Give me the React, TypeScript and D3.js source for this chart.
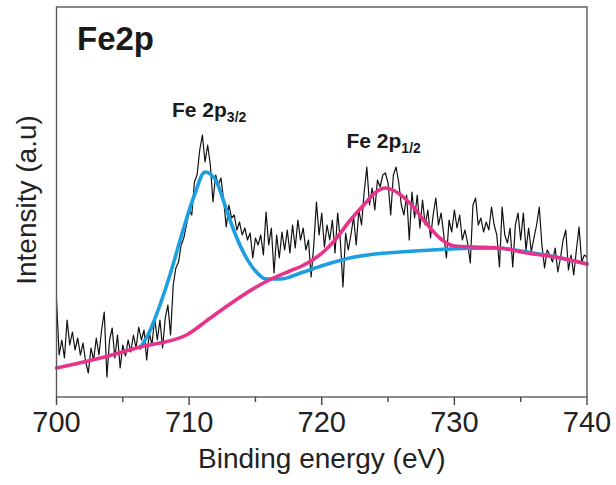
import React from 'react';
import * as d3 from 'd3';

const W = 616;
const H = 485;
const PLOT = { left: 56.5, right: 587, top: 7, bottom: 397 };

const xTicks = [700, 710, 720, 730, 740];
const xMinorTicks = [705, 715, 725, 735];

// Raw spectrum: binding energy from 700 eV in 0.2 eV steps
const E_START = 700;
const E_STEP = 0.2;
const rawIntensity = [
  97, 42, 57, 39, 77, 52, 65, 47, 59, 42,
  54, 35, 24, 49, 37, 59, 42, 67, 85, 20,
  57, 69, 39, 62, 29, 52, 41, 57, 45, 62,
  49, 70, 57, 67, 37, 64, 52, 79, 57, 77,
  49, 79, 92, 62, 112, 129, 135, 152, 159, 172,
  187, 182, 215, 222, 247, 262, 235, 252, 232, 195,
  222, 212, 219, 197, 170, 192, 179, 182, 167, 175,
  162, 169, 157, 164, 139, 159, 152, 162, 142, 185,
  152, 169, 124, 162, 139, 165, 147, 167, 144, 172,
  149, 177, 157, 169, 147, 157, 120, 152, 195, 162,
  184, 150, 172, 157, 177, 144, 184, 157, 110, 164,
  147, 162, 180, 152, 187, 172, 205, 230, 192, 209,
  187, 217, 210, 222, 224, 214, 182, 222, 230, 215,
  192, 182, 202, 157, 205, 179, 202, 169, 197, 172,
  187, 159, 182, 199, 172, 184, 162, 139, 177, 165,
  187, 169, 182, 157, 167, 154, 134, 192, 199, 172,
  179, 165, 175, 167, 190, 172, 162, 130, 190, 162,
  154, 169, 130, 172, 184, 157, 184, 147, 169, 145,
  159, 172, 190, 152, 129, 147, 142, 135, 149, 125,
  139, 157, 167, 127, 142, 122, 147, 170, 135, 142, 140,
];

// Fe 2p3/2 fit (blue)
const fit32Energy = [706.3, 707.0, 707.8, 708.6, 709.5, 710.4, 711.2, 712.0, 712.7, 713.3, 714.2, 715.0, 715.8, 716.9, 718.4, 720.2, 722.1, 724.0, 725.9, 729.7, 733.1, 735.5, 738.0, 740];
const fit32Intensity = [49, 65, 92, 124, 165, 202, 225, 217, 192, 169, 142, 126, 118, 118, 124, 132, 139, 143, 145, 148, 149, 145, 139, 133];

// Fe 2p1/2 fit + background (pink)
const fit12Energy = [700, 703.3, 706.3, 709.8, 711.6, 713.3, 715.6, 717.6, 718.5, 719.3, 720.2, 721.0, 722.1, 723.3, 724.0, 724.8, 725.5, 726.7, 727.8, 728.9, 730.0, 731.6, 733.4, 735.5, 738.0, 740];
const fit12Intensity = [29, 39, 50, 62, 79, 95, 114, 126, 131, 137, 146, 157, 176, 194, 204, 209, 206, 193, 175, 159, 151, 150, 149, 144, 139, 133];

const xLabel = 'Binding energy (eV)';
const yLabel = 'Intensity (a.u)';
const panelLabel = 'Fe2p';

const FONT = "'Liberation Sans', Arial, Helvetica, sans-serif";

export default function App() {
  const x = d3.scaleLinear().domain([700, 740]).range([PLOT.left, PLOT.right]);
  const y = d3.scaleLinear().domain([0, 390]).range([PLOT.bottom, PLOT.top]);

  const raw = rawIntensity.map((v, i) => [E_START + i * E_STEP, v] as [number, number]);
  const fit32 = fit32Energy.map((e, i) => [e, fit32Intensity[i]] as [number, number]);
  const fit12 = fit12Energy.map((e, i) => [e, fit12Intensity[i]] as [number, number]);

  const rawLine = d3.line<[number, number]>().x(d => x(d[0])).y(d => y(d[1]));
  const fitLine = d3.line<[number, number]>().x(d => x(d[0])).y(d => y(d[1])).curve(d3.curveMonotoneX);

  return (
    <svg width={W} height={H} style={{ position: 'absolute', left: 0, top: 0, background: '#fff' }} fontFamily={FONT}>
      <rect x={0} y={0} width={W} height={H} fill="#fff" />
      <path d={rawLine(raw) || ''} fill="none" stroke="#111" strokeWidth={1.2} strokeLinejoin="round" />
      <path d={fitLine(fit32) || ''} fill="none" stroke="#1c9fe0" strokeWidth={3.6} strokeLinecap="round" />
      <path d={fitLine(fit12) || ''} fill="none" stroke="#e8338b" strokeWidth={3.6} strokeLinecap="round" />

      <rect x={PLOT.left} y={PLOT.top} width={PLOT.right - PLOT.left} height={PLOT.bottom - PLOT.top} fill="none" stroke="#5a5a5a" strokeWidth={1.4} />

      {xTicks.map(t => (
        <g key={t}>
          <line x1={x(t)} x2={x(t)} y1={PLOT.bottom} y2={PLOT.bottom + 8} stroke="#444" strokeWidth={1.4} />
          <text x={x(t)} y={432} textAnchor="middle" fontSize={29} fill="#222">{t}</text>
        </g>
      ))}
      {xMinorTicks.map(t => (
        <line key={t} x1={x(t)} x2={x(t)} y1={PLOT.bottom} y2={PLOT.bottom + 5} stroke="#444" strokeWidth={1.4} />
      ))}

      <text x={(PLOT.left + PLOT.right) / 2} y={468} textAnchor="middle" fontSize={28} fill="#222">{xLabel}</text>
      <text transform={`translate(36,200) rotate(-90)`} textAnchor="middle" fontSize={28} fill="#222">{yLabel}</text>

      <text x={77} y={50} fontSize={33} fontWeight="bold" fill="#1a1a1a">{panelLabel}</text>

      <text x={172} y={117} fontSize={21} fontWeight="bold" fill="#1a1a1a">
        Fe 2p<tspan fontSize={14} dy={5}>3/2</tspan>
      </text>
      <text x={346.5} y={148} fontSize={21} fontWeight="bold" fill="#1a1a1a">
        Fe 2p<tspan fontSize={14} dy={5}>1/2</tspan>
      </text>
    </svg>
  );
}
